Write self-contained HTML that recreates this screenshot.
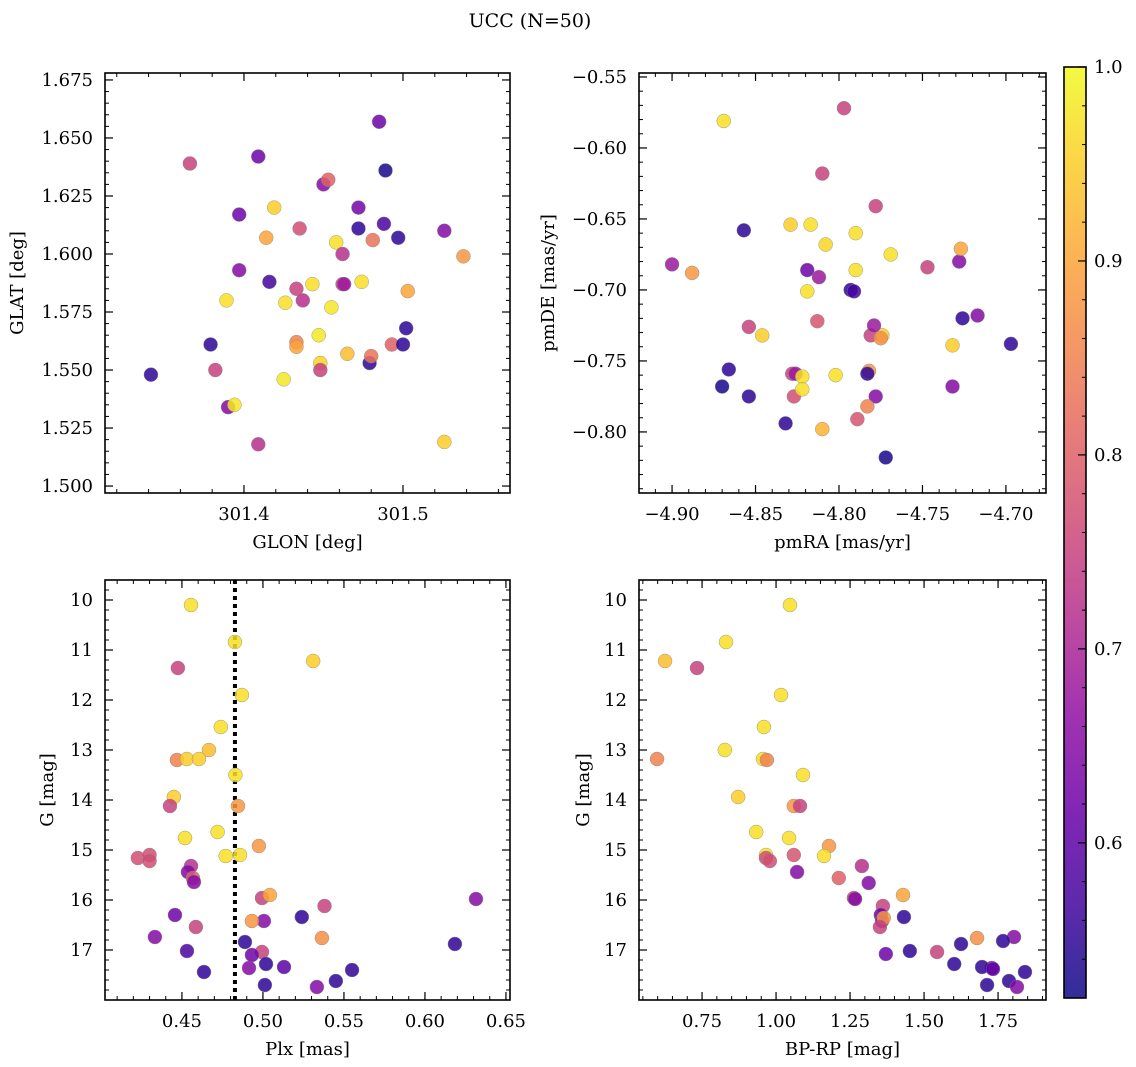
<!DOCTYPE html>
<html><head><meta charset="utf-8">
<style>
html,body{margin:0;padding:0;background:#fff;}
svg{display:block;font-family:"DejaVu Serif","Liberation Serif",serif;}
</style></head>
<body>
<svg id="fig" width="1136" height="1067" viewBox="0 0 1136 1067" xmlns="http://www.w3.org/2000/svg">
<text x="530" y="27" font-size="19" text-anchor="middle">UCC (N=50)</text>
</svg>
<script>
// Panel 1: GLON / GLAT / membership probability
const p1Glon=[301.3415,301.366,301.379,301.382,301.390,301.394,301.389,301.397,301.397,301.409,301.409,301.414,301.416,301.419,301.425,301.426,301.435,301.433,301.433,301.433,301.437,301.443,301.447,301.448,301.448,301.450,301.453,301.455,301.458,301.462,301.462,301.463,301.465,301.472,301.472,301.474,301.479,301.480,301.481,301.485,301.488,301.489,301.493,301.497,301.500,301.502,301.503,301.526,301.526,301.538];
const p1Glat=[1.548,1.639,1.561,1.550,1.534,1.535,1.580,1.617,1.593,1.642,1.518,1.607,1.588,1.620,1.546,1.579,1.611,1.562,1.560,1.585,1.580,1.587,1.565,1.553,1.550,1.630,1.632,1.577,1.605,1.600,1.587,1.587,1.557,1.620,1.611,1.588,1.553,1.556,1.606,1.657,1.613,1.636,1.561,1.607,1.561,1.568,1.584,1.610,1.519,1.599];
const p1Prob=[0.55,0.75,0.55,0.75,0.65,0.98,0.97,0.62,0.65,0.62,0.72,0.9,0.57,0.95,0.98,0.97,0.77,0.85,0.9,0.75,0.72,0.97,0.98,0.96,0.75,0.65,0.8,0.98,0.97,0.72,0.75,0.68,0.93,0.63,0.55,0.97,0.55,0.83,0.83,0.62,0.58,0.53,0.8,0.55,0.55,0.55,0.9,0.65,0.95,0.88];
// Panel 2: pmRA / pmDE
const p2PmRA=[-4.900,-4.888,-4.869,-4.857,-4.810,-4.829,-4.817,-4.808,-4.790,-4.790,-4.769,-4.778,-4.747,-4.728,-4.727,-4.819,-4.812,-4.819,-4.793,-4.791,-4.726,-4.717,-4.697,-4.854,-4.846,-4.813,-4.781,-4.774,-4.775,-4.779,-4.732,-4.732,-4.828,-4.826,-4.822,-4.802,-4.782,-4.783,-4.866,-4.870,-4.854,-4.827,-4.822,-4.778,-4.783,-4.789,-4.810,-4.832,-4.772,-4.797];
const p2PmDE=[-0.682,-0.688,-0.581,-0.658,-0.618,-0.654,-0.654,-0.668,-0.660,-0.686,-0.675,-0.641,-0.684,-0.680,-0.671,-0.686,-0.691,-0.701,-0.700,-0.701,-0.720,-0.718,-0.738,-0.726,-0.732,-0.722,-0.732,-0.732,-0.734,-0.725,-0.739,-0.768,-0.759,-0.759,-0.761,-0.760,-0.757,-0.759,-0.756,-0.768,-0.775,-0.775,-0.770,-0.775,-0.782,-0.791,-0.798,-0.794,-0.818,-0.572];
const p2Prob=[0.68,0.88,0.97,0.55,0.75,0.95,0.97,0.96,0.97,0.97,0.97,0.75,0.75,0.65,0.9,0.62,0.68,0.97,0.55,0.57,0.55,0.65,0.55,0.75,0.95,0.78,0.75,0.95,0.87,0.68,0.95,0.65,0.75,0.68,0.97,0.97,0.88,0.55,0.55,0.53,0.55,0.77,0.97,0.65,0.85,0.78,0.92,0.55,0.53,0.75];
// Panel 3: Plx / G
const p3Plx=[0.4556,0.4475,0.4827,0.531,0.487,0.474,0.4667,0.4469,0.453,0.4605,0.483,0.445,0.4426,0.4846,0.472,0.4519,0.4975,0.477,0.4858,0.4228,0.430,0.430,0.4556,0.4537,0.4568,0.4574,0.4994,0.5043,0.538,0.6315,0.4457,0.524,0.5006,0.4932,0.4586,0.4333,0.5364,0.4889,0.6185,0.4531,0.4994,0.4932,0.5019,0.4914,0.513,0.4636,0.555,0.545,0.5012,0.5333];
const p3G=[10.1,11.36,10.84,11.22,11.9,12.54,13.0,13.2,13.18,13.18,13.5,13.94,14.12,14.12,14.64,14.76,14.92,15.12,15.1,15.16,15.1,15.22,15.32,15.44,15.56,15.64,15.96,15.9,16.12,15.98,16.3,16.34,16.42,16.42,16.54,16.74,16.76,16.84,16.88,17.02,17.04,17.1,17.28,17.36,17.34,17.44,17.4,17.62,17.7,17.74];
const p3Prob=[0.97,0.75,0.97,0.95,0.97,0.97,0.93,0.85,0.95,0.95,0.97,0.95,0.75,0.88,0.97,0.97,0.88,0.97,0.97,0.77,0.77,0.77,0.72,0.65,0.8,0.65,0.75,0.9,0.75,0.65,0.62,0.55,0.65,0.88,0.75,0.65,0.87,0.55,0.55,0.58,0.75,0.62,0.55,0.65,0.6,0.55,0.55,0.55,0.55,0.65];
const plxLine=0.4827;
// Panel 4: BP-RP / G
const p4BpRp=[1.047,0.831,0.625,0.733,1.017,0.959,0.827,0.598,0.956,0.969,1.091,0.872,0.933,1.060,1.081,1.044,0.966,1.179,1.162,1.060,0.966,0.979,1.071,1.290,1.212,1.313,1.263,1.429,1.267,1.361,1.354,1.432,1.358,1.364,1.351,1.804,1.679,1.767,1.625,1.452,1.544,1.371,1.602,1.729,1.696,1.841,1.787,1.713,1.814,1.733];
const p4G=[10.1,10.84,11.22,11.36,11.9,12.54,13.0,13.18,13.18,13.2,13.5,13.94,14.64,14.12,14.12,14.76,15.1,14.92,15.12,15.1,15.16,15.22,15.44,15.32,15.56,15.66,15.96,15.9,15.98,16.12,16.3,16.34,16.42,16.36,16.54,16.74,16.76,16.82,16.88,17.02,17.04,17.08,17.28,17.36,17.34,17.44,17.62,17.7,17.74,17.38];
const p4Prob=[0.97,0.97,0.93,0.75,0.97,0.97,0.97,0.85,0.97,0.85,0.97,0.95,0.97,0.88,0.75,0.97,0.97,0.88,0.97,0.78,0.77,0.77,0.65,0.72,0.8,0.65,0.75,0.9,0.65,0.75,0.62,0.55,0.65,0.88,0.75,0.65,0.87,0.55,0.55,0.55,0.75,0.62,0.55,0.65,0.55,0.55,0.55,0.55,0.65,0.6];
// Tick labels
const p1XTicks=[301.4,301.5], p1XLabels=["301.4","301.5"];
const p1YTicks=[1.500,1.525,1.550,1.575,1.600,1.625,1.650,1.675];
const p2XTicks=[-4.90,-4.85,-4.80,-4.75,-4.70];
const p2YTicks=[-0.55,-0.60,-0.65,-0.70,-0.75,-0.80];
const p3XTicks=[0.45,0.50,0.55,0.60,0.65];
const gTicks=[10,11,12,13,14,15,16,17];
const p4XTicks=[0.75,1.00,1.25,1.50,1.75];
const cbTicks=[0.6,0.7,0.8,0.9,1.0];
const vmin=0.52, vmax=1.0;

const NS="http://www.w3.org/2000/svg";
const svg=document.getElementById('fig');
const FS=18;
function mk(tag,attrs,parent){const e=document.createElementNS(NS,tag);for(const k in attrs)e.setAttribute(k,attrs[k]);(parent||svg).appendChild(e);return e;}
const plasma=[[13,8,135],[65,4,157],[106,0,168],[143,13,164],[177,42,144],[204,71,120],[225,100,98],[242,132,75],[252,166,54],[252,206,37],[240,249,33]];
function cmap(t){t=Math.max(0,Math.min(1,t));const s=t*10,i=Math.min(9,Math.floor(s)),f=s-i;const a=plasma[i],b=plasma[i+1];return 'rgb('+a.map((v,k)=>Math.round(v+(b[k]-v)*f)).join(',')+')';}
function fmt(v,d){return (v<0?'\u2212':'')+Math.abs(v).toFixed(d);}

function panel(c){
  const g=mk('g',{});
  
  
  const sx=v=>c.x0+(v-c.xmin)/(c.xmax-c.xmin)*(c.x1-c.x0);
  const sy=v=>c.y0+(v-c.ytop)/(c.ybot-c.ytop)*(c.y1-c.y0);
  if(c.vline!==undefined){
    const l=mk('line',{x1:sx(c.vline),x2:sx(c.vline),y1:c.y0,y2:c.y1,stroke:'#000','stroke-width':4,'stroke-dasharray':'4,4'},g);
    
    
  }
  for(let i=0;i<c.xs.length;i++){
    const p=mk('circle',{cx:sx(c.xs[i]),cy:sy(c.ys[i]),r:7,fill:cmap((c.ps[i]-vmin)/(vmax-vmin)),'fill-opacity':0.85,stroke:'#888','stroke-width':0.4},g);
    
    
  }
  const fr=mk('rect',{x:c.x0,y:c.y0,width:c.x1-c.x0,height:c.y1-c.y0,fill:'none',stroke:'#000','stroke-width':1.6},g);
  
  
  const lo=Math.min(c.xmin,c.xmax),hi=Math.max(c.xmin,c.xmax);
  for(let v=Math.ceil(lo/c.xm)*c.xm;v<=hi;v+=c.xm){const x=sx(v);mk('line',{x1:x,x2:x,y1:c.y1,y2:c.y1-4,stroke:'#000','stroke-width':1},g);mk('line',{x1:x,x2:x,y1:c.y0,y2:c.y0+4,stroke:'#000','stroke-width':1},g);}
  const ylo=Math.min(c.ytop,c.ybot),yhi=Math.max(c.ytop,c.ybot);
  for(let v=Math.ceil(ylo/c.ym)*c.ym;v<=yhi;v+=c.ym){const y=sy(v);mk('line',{x1:c.x0,x2:c.x0+4,y1:y,y2:y,stroke:'#000','stroke-width':1},g);mk('line',{x1:c.x1,x2:c.x1-4,y1:y,y2:y,stroke:'#000','stroke-width':1},g);}
  c.xt.forEach((v,i)=>{const x=sx(v);mk('line',{x1:x,x2:x,y1:c.y1,y2:c.y1-8,stroke:'#000','stroke-width':1.2},g);mk('line',{x1:x,x2:x,y1:c.y0,y2:c.y0+8,stroke:'#000','stroke-width':1.2},g);
    const t=mk('text',{x:x,y:c.y1+27,'font-size':FS,'text-anchor':'middle'},g);t.textContent=c.xl[i];
    });
  c.yt.forEach((v,i)=>{const y=sy(v);mk('line',{x1:c.x0,x2:c.x0+8,y1:y,y2:y,stroke:'#000','stroke-width':1.2},g);mk('line',{x1:c.x1,x2:c.x1-8,y1:y,y2:y,stroke:'#000','stroke-width':1.2},g);
    const t=mk('text',{x:c.x0-12,y:y+6,'font-size':FS,'text-anchor':'end'},g);t.textContent=c.yl[i];
    });
  const xt=mk('text',{x:(c.x0+c.x1)/2,y:c.y1+55,'font-size':FS,'text-anchor':'middle'},g);xt.textContent=c.xlab;
  
  const yx=c.ylx,yy=(c.y0+c.y1)/2;
  const yt=mk('text',{x:yx,y:yy,'font-size':FS,'text-anchor':'middle',transform:'rotate(-90 '+yx+' '+yy+')'},g);yt.textContent=c.ylab;
  
}
panel({name:'glon-glat-panel',x0:105,x1:510,y0:73,y1:493,xmin:301.3126,xmax:301.5673,ytop:1.678,ybot:1.497,xs:p1Glon,ys:p1Glat,ps:p1Prob,
  xt:p1XTicks,xl:p1XLabels,yt:p1YTicks,yl:p1YTicks.map(v=>fmt(v,3)),xm:0.02,ym:0.005,xlab:'GLON [deg]',ylab:'GLAT [deg]',ylx:23});
panel({name:'proper-motion-panel',x0:639,x1:1046,y0:73,y1:493,xmin:-4.9198,xmax:-4.676,ytop:-0.5472,ybot:-0.843,xs:p2PmRA,ys:p2PmDE,ps:p2Prob,
  xt:p2XTicks,xl:p2XTicks.map(v=>fmt(v,2)),yt:p2YTicks,yl:p2YTicks.map(v=>fmt(v,2)),xm:0.01,ym:0.01,xlab:'pmRA [mas/yr]',ylab:'pmDE [mas/yr]',ylx:554});
panel({name:'parallax-mag-panel',x0:105,x1:510,y0:580,y1:1000,xmin:0.4025,xmax:0.6525,ytop:9.6,ybot:18.0,xs:p3Plx,ys:p3G,ps:p3Prob,vline:plxLine,
  xt:p3XTicks,xl:p3XTicks.map(v=>v.toFixed(2)),yt:gTicks,yl:gTicks.map(String),xm:0.01,ym:0.2,xlab:'Plx [mas]',ylab:'G [mag]',ylx:53});
panel({name:'cmd-panel',x0:639,x1:1046,y0:580,y1:1000,xmin:0.537,xmax:1.912,ytop:9.6,ybot:18.0,xs:p4BpRp,ys:p4G,ps:p4Prob,
  xt:p4XTicks,xl:p4XTicks.map(v=>v.toFixed(2)),yt:gTicks,yl:gTicks.map(String),xm:0.05,ym:0.2,xlab:'BP-RP [mag]',ylab:'G [mag]',ylx:589});
(function(){
  const cx0=1064,cx1=1086,cy0=67,cy1=998;
  const g=mk('g',{});
  
  
  const defs=mk('defs',{},g);
  const lg=mk('linearGradient',{id:'cbg',x1:0,y1:1,x2:0,y2:0},defs);
  for(let i=0;i<=20;i++)mk('stop',{offset:(i/20),'stop-color':cmap(i/20),'stop-opacity':0.85},lg);
  mk('rect',{x:cx0,y:cy0,width:cx1-cx0,height:cy1-cy0,fill:'url(#cbg)',stroke:'#000','stroke-width':1.6},g);
  const sy=v=>cy1-(v-vmin)/(vmax-vmin)*(cy1-cy0);
  for(let v=0.54;v<=1.0001;v+=0.02){const y=sy(v);mk('line',{x1:cx1,x2:cx1-4,y1:y,y2:y,stroke:'#000','stroke-width':1},g);}
  cbTicks.forEach(v=>{const y=sy(v);mk('line',{x1:cx1,x2:cx1-8,y1:y,y2:y,stroke:'#000','stroke-width':1.2},g);
    const t=mk('text',{x:cx1+8,y:y+6,'font-size':FS},g);t.textContent=v.toFixed(1);
    });
})();
</script>
</body></html>
